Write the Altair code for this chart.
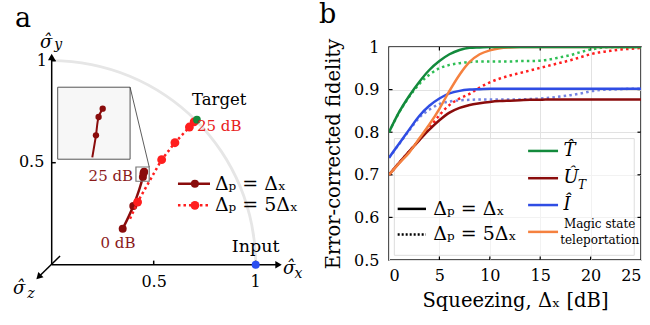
import math
import altair as alt
import pandas as pd

FONT = "DejaVu Serif"

# ---------------- panel a data (Bloch plane) ----------------
uni_x = [0.348, 0.400, 0.447, 0.450, 0.453]          # Δp = Δx
uni_y = [0.176, 0.288, 0.430, 0.448, 0.456]
five_line_x = [0.384, 0.421, 0.539, 0.604, 0.675, 0.698]   # Δp = 5Δx
five_line_y = [0.225, 0.307, 0.515, 0.598, 0.675, 0.700]
five_pts_x = [0.421, 0.539, 0.604, 0.675, 0.698]
five_pts_y = [0.307, 0.515, 0.598, 0.675, 0.700]
target_x, target_y = [0.712], [0.711]
input_x, input_y = [1.0], [0.0]
inset_line_x = [0.199, 0.217, 0.230, 0.250]
inset_line_y = [0.526, 0.634, 0.724, 0.765]
inset_pts_x = [0.217, 0.230, 0.250]
inset_pts_y = [0.634, 0.724, 0.765]
bloch_ticks = [0.5, 1.0]

# ---------------- panel b data ----------------
squeezing = list(range(26))
T_uni = [0.800, 0.847, 0.885, 0.918, 0.946, 0.967, 0.983, 0.993, 0.998, 0.999, 1.0,
         1.0, 1.0, 1.0, 1.0, 1.0, 1.0, 1.0, 1.0, 1.0, 1.0, 1.0, 1.0, 1.0, 1.0, 1.0]
T_five = [0.800, 0.846, 0.883, 0.913, 0.935, 0.950, 0.958, 0.962, 0.965, 0.966, 0.966,
          0.966, 0.966, 0.967, 0.967, 0.968, 0.971, 0.976, 0.981, 0.988, 0.994, 0.998,
          1.0, 1.0, 1.0, 1.0]
U_uni = [0.700, 0.728, 0.755, 0.781, 0.806, 0.828, 0.846, 0.857, 0.864, 0.868, 0.871,
         0.873, 0.874, 0.875, 0.876, 0.876, 0.877, 0.877, 0.877, 0.877, 0.877, 0.877,
         0.877, 0.877, 0.877, 0.877]
U_five = [0.700, 0.728, 0.755, 0.782, 0.810, 0.840, 0.864, 0.879, 0.890, 0.905, 0.917,
          0.926, 0.933, 0.939, 0.945, 0.951, 0.957, 0.963, 0.969, 0.976, 0.983, 0.988,
          0.991, 0.994, 0.996, 0.998]
I_uni = [0.740, 0.773, 0.806, 0.838, 0.862, 0.879, 0.891, 0.897, 0.900, 0.901, 0.902,
         0.902, 0.902, 0.902, 0.902, 0.902, 0.902, 0.902, 0.902, 0.902, 0.902, 0.902,
         0.902, 0.902, 0.902, 0.902]
I_five = [0.740, 0.772, 0.804, 0.834, 0.853, 0.866, 0.872, 0.875, 0.876, 0.877, 0.877,
          0.877, 0.877, 0.877, 0.878, 0.879, 0.881, 0.884, 0.887, 0.891, 0.896, 0.899,
          0.900, 0.901, 0.902, 0.902]
MST = [0.700, 0.727, 0.752, 0.785, 0.818, 0.855, 0.897, 0.935, 0.965, 0.983, 0.992,
       0.997, 0.999, 1.0, 1.0, 1.0, 1.0, 1.0, 1.0, 1.0, 1.0, 1.0, 1.0, 1.0, 1.0, 1.0]
x_ticks = [0, 5, 10, 15, 20, 25]
y_ticks = [0.5, 0.6, 0.7, 0.8, 0.9, 1.0]

DARK = "#8a0c0c"
RED = "#ff1e1e"
GREEN = "#138a3c"
GREEN_L = "#2fbf55"
BLUE = "#2f4de4"
BLUE_L = "#7484e2"
ORANGE = "#f5813f"

# ---------------- helpers panel a ----------------
A_W, A_H = 318, 280
XA = [-0.2534, 1.3054]
YA = [-0.3054, 1.0672]


def ax(f="x"):
    return alt.X(f"{f}:Q", scale=alt.Scale(domain=XA, nice=False, zero=False), axis=None)


def ay(f="y"):
    return alt.Y(f"{f}:Q", scale=alt.Scale(domain=YA, nice=False, zero=False), axis=None)


def seg(x, y, x2, y2, color="black", width=1.5, dash=None, opacity=1.0):
    kw = dict(color=color, strokeWidth=width, opacity=opacity)
    if dash:
        kw["strokeDash"] = dash
    return alt.Chart(pd.DataFrame({"x": [x], "y": [y], "x2": [x2], "y2": [y2]})).mark_rule(**kw).encode(
        x=ax(), y=ay(), x2="x2:Q", y2="y2:Q")


def txt(x, y, s, size=16, color="black", align="left", baseline="alphabetic", style="normal"):
    return alt.Chart(pd.DataFrame({"x": [x], "y": [y], "t": [s]})).mark_text(
        font=FONT, fontSize=size, color=color, align=align, baseline=baseline, fontStyle=style
    ).encode(x=ax(), y=ay(), text="t:N")


def pts(xs, ys, color, size=64, shape="circle", angle=0):
    return alt.Chart(pd.DataFrame({"x": xs, "y": ys})).mark_point(
        filled=True, color=color, size=size, shape=shape, angle=angle, opacity=1
    ).encode(x=ax(), y=ay())


def path(xs, ys, color, width=2.5, dash=None, interp="linear"):
    kw = dict(color=color, strokeWidth=width, interpolate=interp)
    if dash:
        kw["strokeDash"] = dash
    return alt.Chart(pd.DataFrame({"x": xs, "y": ys, "i": list(range(len(xs)))})).mark_line(**kw).encode(
        x=ax(), y=ay(), order="i:Q")


arc = alt.Chart(pd.DataFrame({"x": [0.0], "y": [0.0]})).mark_arc(
    theta=0, theta2=math.pi / 2, innerRadius=202.6, outerRadius=205.4, color="#e6e6e6"
).encode(x=ax(), y=ay())

layers_a = [
    arc,
    seg(0, 0, 0, 1.02),
    seg(0, 0, 1.11, 0),
    seg(0.041, 0.043, -0.062, -0.058),
    pts([0.0], [1.018], "black", size=55, shape="triangle-up"),
    pts([1.112], [0.0], "black", size=55, shape="triangle-right"),
    pts([-0.064], [-0.060], "black", size=55, shape="triangle-down", angle=45),
]
for t in bloch_ticks:
    layers_a.append(seg(t, 0, t, 0.02))
    layers_a.append(seg(0, t, 0.02, t))
layers_a += [
    txt(-0.18, 1.165, "a", size=27),
    txt(-0.057, 1.060, "σ\u0302", size=18, style="italic"),
    txt(0.012, 1.056, "y", size=14, style="italic"),
    txt(1.134, -0.046, "σ\u0302", size=18, style="italic"),
    txt(1.190, -0.065, "x", size=14, style="italic"),
    txt(-0.190, -0.142, "σ\u0302", size=18, style="italic"),
    txt(-0.120, -0.163, "z", size=14, style="italic"),
    txt(-0.023, 0.998, "1", size=16, align="right", baseline="middle"),
    txt(-0.036, 0.503, "0.5", size=16, align="right", baseline="middle"),
    txt(0.502, -0.085, "0.5", size=16, align="center", baseline="middle"),
    txt(1.0, -0.085, "1", size=16, align="center", baseline="middle"),
    path(uni_x, uni_y, DARK, width=2.5, interp="catmull-rom"),
    pts(uni_x, uni_y, DARK, size=64),
    path(five_line_x, five_line_y, RED, width=2.5, dash=[2.5, 3]),
    pts(five_pts_x, five_pts_y, RED, size=78),
    # inset
    alt.Chart(pd.DataFrame({"x": [0.0294], "x2": [0.3843], "y": [0.5171], "y2": [0.8701]})).mark_rect(
        fill="#f7f7f7", stroke="#555555", strokeWidth=1).encode(x=ax(), x2="x2:Q", y=ay(), y2="y2:Q"),
    path(inset_line_x, inset_line_y, DARK, width=2, interp="catmull-rom"),
    pts(inset_pts_x, inset_pts_y, DARK, size=40),
    alt.Chart(pd.DataFrame({"x": [0.413], "x2": [0.478], "y": [0.409], "y2": [0.479]})).mark_rect(
        fill="white", fillOpacity=0, stroke="#777777", strokeWidth=1.2).encode(x=ax(), x2="x2:Q", y=ay(), y2="y2:Q"),
    seg(0.3843, 0.8701, 0.478, 0.479, color="#333333", width=0.8),
    pts(target_x, target_y, GREEN, size=60),
    pts(input_x, input_y, "#2b4ff0", size=64),
    txt(0.688, 0.783, "Target", size=16.5),
    txt(0.712, 0.653, "25 dB", size=15, color="#e82020"),
    txt(0.399, 0.410, "25 dB", size=15, color="#8b1a1a", align="right"),
    txt(0.325, 0.082, "0 dB", size=15, color="#8b1a1a", align="center"),
    txt(1.0, 0.060, "Input", size=17.5, align="center"),
    # legend a
    seg(0.619, 0.397, 0.776, 0.397, color=DARK, width=2.5),
    pts([0.702], [0.397], DARK, size=64),
    seg(0.619, 0.291, 0.776, 0.291, color=RED, width=2.5, dash=[2.5, 3]),
    pts([0.702], [0.291], RED, size=78),
    txt(0.800, 0.397, "Δₚ = Δₓ", size=19, baseline="middle"),
    txt(0.800, 0.291, "Δₚ = 5Δₓ", size=19, baseline="middle"),
]
panel_a = alt.layer(*layers_a).properties(width=A_W, height=A_H)

# ---------------- panel b ----------------
XB = alt.Scale(domain=[0, 25], nice=False, zero=False)
YB = alt.Scale(domain=[0.5, 1.0], nice=False, zero=False)
x_axis = alt.Axis(values=x_ticks, grid=True, gridColor="#e2e2e2", domain=False, ticks=False,
                  labelPadding=7, labelFontSize=16, labelFont=FONT, labelColor="black",
                  title="Squeezing, Δₓ [dB]", titleFont=FONT, titleFontSize=19.5,
                  titleFontWeight="normal", titleColor="black", titlePadding=8)
y_axis = alt.Axis(values=y_ticks, grid=True, gridColor="#e2e2e2", domain=False, ticks=False,
                  labelPadding=10, labelFontSize=16, labelFont=FONT, labelColor="black",
                  labelExpr="datum.value == 1 ? '1' : format(datum.value, '.1f')",
                  title="Error-corrected fidelity", titleFont=FONT, titleFontSize=19.5,
                  titleFontWeight="normal", titleColor="black", titlePadding=10)


def bx(f="x"):
    return alt.X(f"{f}:Q", scale=XB, axis=x_axis)


def by(f="y"):
    return alt.Y(f"{f}:Q", scale=YB, axis=y_axis)


def curve(vals, color, dash=None, width=2.5):
    kw = dict(color=color, strokeWidth=width, interpolate="monotone", clip=True)
    if dash:
        kw["strokeDash"] = dash
    return alt.Chart(pd.DataFrame({"x": squeezing, "y": vals})).mark_line(**kw).encode(x=bx(), y=by())


def bseg(x, y, x2, y2, color="black", width=1.2, dash=None):
    kw = dict(color=color, strokeWidth=width)
    if dash:
        kw["strokeDash"] = dash
    return alt.Chart(pd.DataFrame({"x": [x], "y": [y], "x2": [x2], "y2": [y2]})).mark_rule(**kw).encode(
        x=bx(), y=by(), x2="x2:Q", y2="y2:Q")


def btxt(x, y, s, size=16, align="left", baseline="middle", style="normal"):
    return alt.Chart(pd.DataFrame({"x": [x], "y": [y], "t": [s]})).mark_text(
        font=FONT, fontSize=size, color="black", align=align, baseline=baseline, fontStyle=style
    ).encode(x=bx(), y=by(), text="t:N")


DOT = [2.5, 3.2]
layers_b = [
    alt.Chart(pd.DataFrame({"x": [0.53], "x2": [24.33], "y": [0.511], "y2": [0.785]})).mark_rect(
        fill="white", fillOpacity=0.55, stroke="#dddddd", strokeWidth=1).encode(
        x=bx(), x2="x2:Q", y=by(), y2="y2:Q"),
]
for t in y_ticks[1:-1]:
    layers_b.append(bseg(0, t, 0.35, t))
    layers_b.append(bseg(24.65, t, 25, t))
for t in x_ticks[1:-1]:
    layers_b.append(bseg(t, 0.5, t, 0.508))
    layers_b.append(bseg(t, 0.992, t, 1.0))
layers_b += [
    curve(I_five, BLUE_L, DOT),
    curve(T_five, GREEN_L, DOT),
    curve(U_five, RED, DOT),
    curve(I_uni, BLUE),
    curve(U_uni, DARK),
    curve(MST, ORANGE),
    curve(T_uni, GREEN),
    # legend
    bseg(0.86, 0.620, 3.67, 0.620, color="black", width=2.5),
    bseg(0.86, 0.560, 3.67, 0.560, color="black", width=2.5, dash=[2, 2]),
    btxt(4.4, 0.620, "Δₚ = Δₓ", size=19),
    btxt(4.4, 0.560, "Δₚ = 5Δₓ", size=19),
    bseg(13.8, 0.756, 16.77, 0.756, color=GREEN, width=2.5),
    bseg(13.8, 0.692, 16.77, 0.692, color=DARK, width=2.5),
    bseg(13.8, 0.629, 16.77, 0.629, color=BLUE, width=2.5),
    bseg(13.8, 0.566, 16.77, 0.566, color=ORANGE, width=2.5),
    btxt(17.3, 0.756, "T\u0302", size=18, style="italic"),
    btxt(17.3, 0.692, "Û", size=18, style="italic"),
    btxt(18.75, 0.676, "T", size=12, style="italic"),
    btxt(17.3, 0.629, "Î", size=18, style="italic"),
    btxt(20.9, 0.585, "Magic state", size=12, align="center"),
    btxt(20.9, 0.547, "teleportation", size=12, align="center"),
]
panel_b = alt.layer(*layers_b).properties(
    width=252, height=213,
    view=alt.ViewBackground(stroke="#1a1a1a", strokeWidth=1.5),
    title=alt.TitleParams("b", anchor="start", frame="group", dx=-70, fontSize=27, font=FONT,
                          fontWeight="normal", color="black", offset=9),
)

chart = alt.hconcat(panel_a, panel_b, spacing=0).properties(padding=0).configure_view(stroke=None)
chart.save("out.html", embed_options={"renderer": "svg", "actions": False})
